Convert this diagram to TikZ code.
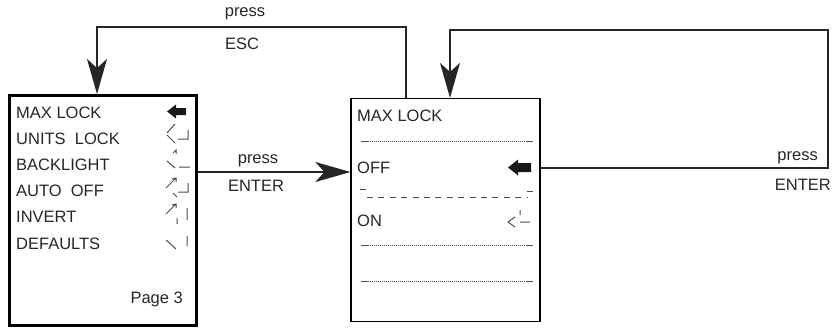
\documentclass[tikz,border=0pt]{standalone}
\usepackage{fontspec}
\setmainfont{Liberation Sans}
\usetikzlibrary{arrows.meta}

\begin{document}
\begin{tikzpicture}[
    x=1pt,y=-1pt,
    screen/.style={rectangle,draw,inner sep=0pt},
    item/.style={anchor=base west,inner sep=0pt,text=black!85,font=\fontsize{16.5}{19}\selectfont},
    lbl/.style={anchor=base,inner sep=0pt,text=black!85,font=\fontsize{16.5}{19}\selectfont},
    link/.style={line width=1.2pt,black!85,-{Stealth[length=35pt,width=20pt,inset=9pt]}},
    seg/.style={line width=1pt,black!70},
    dotrule/.style={line width=1pt,densely dotted,black!70},
]
\useasboundingbox (0,0) rectangle (832,329);

% left screen : menu page 3
\node[screen,line width=3pt,minimum width=187pt,minimum height=230pt] (scrL) at (103,210.5) {};
\foreach \txt [count=\i] in {MAX LOCK,UNITS\ \ LOCK,BACKLIGHT,AUTO\ \ OFF,INVERT,DEFAULTS}
  \node[item] (itm\i) at (16,{118+26.2*(\i-1)}) {\txt};
\node[item,anchor=base east] (page) at (183,303) {Page 3};

% left screen : cursor and segment icons
\fill[black!90] (167,111.5) -- (176,104.5) -- (176,108) -- (186,108) -- (186,115) -- (176,115) -- (176,118.5) -- cycle;
\draw[seg] (175,124) -- (167,133) (167,135) -- (175,143) (178,139) -- (188,139) -- (188,130);
\draw[seg] (173,153) -- (176,150) -- (176,154) (167,161) -- (175,168) (179,167) -- (190,167);
\draw[seg] (166,188) -- (176,178) (172,179) -- (176,178) -- (176,182) (173,193) -- (177,197)
           (178,192) -- (188,192) -- (188,183);
\draw[seg] (166,214) -- (176,204) (172,205) -- (176,204) -- (176,208) (177,218) -- (177,224)
           (187,208) -- (187,220);
\draw[seg] (166,240) -- (176,249) (187,236) -- (187,246);

% right screen : max lock setting
\node[screen,line width=1.2pt,minimum width=189pt,minimum height=223pt] (scrR) at (445.5,210) {};
\node[item] (ttl) at (357,121) {MAX LOCK};
\node[item] (off) at (357,173) {OFF};
\node[item] (on) at (357,226) {ON};
\foreach \y in {141,245,281}{
  \draw[dotrule] (368,\y) -- (527,\y);
  \draw[seg] (361,\y) -- (368,\y) (527,\y) -- (533,\y);
}
\draw[seg,dash pattern=on 6pt off 5.4pt] (367,197) -- (527,197);
\draw[seg] (360,189) -- (366,189) (527,191) -- (533,191);
\fill[black!90] (508,167.5) -- (518,159.5) -- (518,163) -- (531,163) -- (531,172) -- (518,172) -- (518,175.5) -- cycle;
\draw[seg] (515,217) -- (508,222) -- (515,227) (520,210) -- (520,215) (520,222) -- (530,222);

% connectors
\coordinate (escC) at (97,27);
\coordinate (entA) at (828,30);
\coordinate (entB) at (450,30);

\draw[link] ([xshift=55.5pt]scrR.north west) |- (escC) -- (escC |- scrL.north);
\node[lbl] (escP) at (245,17) {press};
\node[lbl] (escK) at (242,49) {ESC};

\draw[link] ([yshift=-78pt]scrL.north east) coordinate (entS) -- (entS -| scrR.west);
\node[lbl] (entP) at (258,163) {press};
\node[lbl] (entK) at (256,191) {ENTER};

\draw[link] ([yshift=-70pt]scrR.north east) -| (entA) -- (entB) -- (entB |- scrR.north);
\node[lbl,anchor=base east] (entP2) at (818,160) {press};
\node[lbl,anchor=base east] (entK2) at (831,190) {ENTER};

\end{tikzpicture}
\end{document}
